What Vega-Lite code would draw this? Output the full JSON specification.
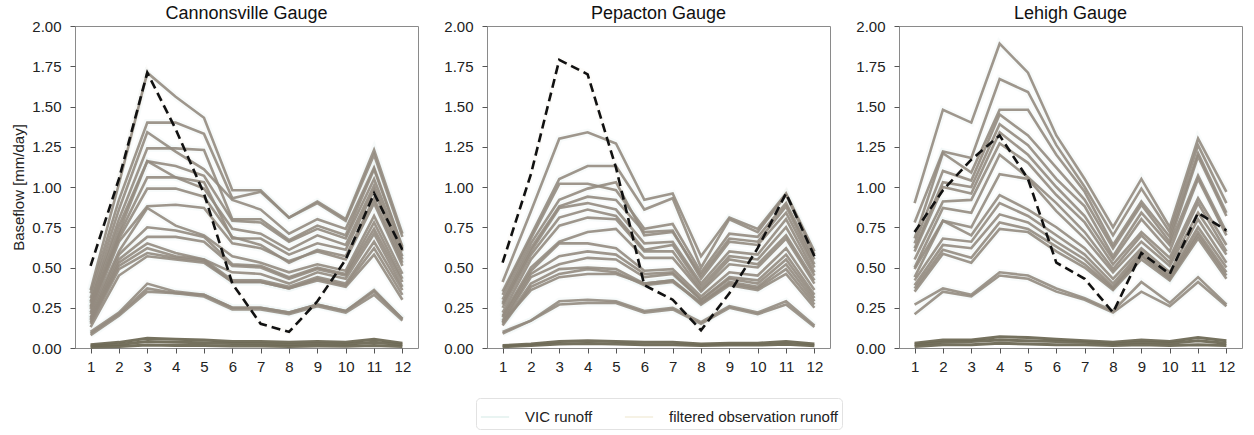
{
  "$schema": "https://vega.github.io/schema/vega-lite/v6.json",
  "background": "white",
  "padding": {"left": 11, "top": 4, "right": 5, "bottom": 0},
  "config": {
    "font": "Liberation Sans",
    "view": {"stroke": "#8a8a8a", "strokeWidth": 1},
    "axis": {
      "labelFont": "Liberation Sans", "labelFontSize": 15, "labelColor": "#222",
      "tickColor": "#555", "tickSize": 5, "domain": false, "grid": false,
      "titleFont": "Liberation Sans", "titleFontSize": 15, "titleFontWeight": "normal", "titleColor": "#222"
    },
    "title": {"font": "Liberation Sans", "fontSize": 18, "fontWeight": "normal", "color": "#111", "offset": -4},
    "legend": {
      "labelFont": "Liberation Sans", "labelFontSize": 15, "labelColor": "#222", "labelLimit": 400,
      "symbolType": "stroke", "symbolSize": 800, "symbolStrokeWidth": 1.5, "symbolOpacity": 1,
      "labelOffset": 15, "columnPadding": 28, "padding": 4,
      "strokeColor": "#e2e2e2", "cornerRadius": 4, "fillColor": "white"
    }
  },
  "datasets": {
    "cannonsville": [
      {"run":1,"month":1,"flow":0.36},{"run":1,"month":2,"flow":1.02},{"run":1,"month":3,"flow":1.71},{"run":1,"month":4,"flow":1.56},{"run":1,"month":5,"flow":1.43},{"run":1,"month":6,"flow":0.98},{"run":1,"month":7,"flow":0.98},{"run":1,"month":8,"flow":0.81},{"run":1,"month":9,"flow":0.91},{"run":1,"month":10,"flow":0.80},{"run":1,"month":11,"flow":1.23},{"run":1,"month":12,"flow":0.71},
      {"run":2,"month":1,"flow":0.34},{"run":2,"month":2,"flow":0.92},{"run":2,"month":3,"flow":1.40},{"run":2,"month":4,"flow":1.40},{"run":2,"month":5,"flow":1.33},{"run":2,"month":6,"flow":0.93},{"run":2,"month":7,"flow":0.97},{"run":2,"month":8,"flow":0.81},{"run":2,"month":9,"flow":0.90},{"run":2,"month":10,"flow":0.79},{"run":2,"month":11,"flow":1.20},{"run":2,"month":12,"flow":0.69},
      {"run":3,"month":1,"flow":0.31},{"run":3,"month":2,"flow":0.86},{"run":3,"month":3,"flow":1.34},{"run":3,"month":4,"flow":1.22},{"run":3,"month":5,"flow":1.11},{"run":3,"month":6,"flow":0.92},{"run":3,"month":7,"flow":0.86},{"run":3,"month":8,"flow":0.71},{"run":3,"month":9,"flow":0.80},{"run":3,"month":10,"flow":0.74},{"run":3,"month":11,"flow":1.12},{"run":3,"month":12,"flow":0.63},
      {"run":4,"month":1,"flow":0.29},{"run":4,"month":2,"flow":0.80},{"run":4,"month":3,"flow":1.24},{"run":4,"month":4,"flow":1.24},{"run":4,"month":5,"flow":1.23},{"run":4,"month":6,"flow":0.80},{"run":4,"month":7,"flow":0.80},{"run":4,"month":8,"flow":0.67},{"run":4,"month":9,"flow":0.76},{"run":4,"month":10,"flow":0.70},{"run":4,"month":11,"flow":1.11},{"run":4,"month":12,"flow":0.62},
      {"run":5,"month":1,"flow":0.28},{"run":5,"month":2,"flow":0.76},{"run":5,"month":3,"flow":1.16},{"run":5,"month":4,"flow":1.13},{"run":5,"month":5,"flow":1.07},{"run":5,"month":6,"flow":0.79},{"run":5,"month":7,"flow":0.78},{"run":5,"month":8,"flow":0.66},{"run":5,"month":9,"flow":0.74},{"run":5,"month":10,"flow":0.68},{"run":5,"month":11,"flow":1.05},{"run":5,"month":12,"flow":0.60},
      {"run":6,"month":1,"flow":0.26},{"run":6,"month":2,"flow":0.72},{"run":6,"month":3,"flow":1.16},{"run":6,"month":4,"flow":1.06},{"run":6,"month":5,"flow":0.99},{"run":6,"month":6,"flow":0.74},{"run":6,"month":7,"flow":0.71},{"run":6,"month":8,"flow":0.61},{"run":6,"month":9,"flow":0.70},{"run":6,"month":10,"flow":0.64},{"run":6,"month":11,"flow":1.01},{"run":6,"month":12,"flow":0.57},
      {"run":7,"month":1,"flow":0.25},{"run":7,"month":2,"flow":0.70},{"run":7,"month":3,"flow":1.06},{"run":7,"month":4,"flow":1.06},{"run":7,"month":5,"flow":1.03},{"run":7,"month":6,"flow":0.68},{"run":7,"month":7,"flow":0.68},{"run":7,"month":8,"flow":0.58},{"run":7,"month":9,"flow":0.65},{"run":7,"month":10,"flow":0.61},{"run":7,"month":11,"flow":0.98},{"run":7,"month":12,"flow":0.55},
      {"run":8,"month":1,"flow":0.24},{"run":8,"month":2,"flow":0.68},{"run":8,"month":3,"flow":0.99},{"run":8,"month":4,"flow":0.99},{"run":8,"month":5,"flow":0.94},{"run":8,"month":6,"flow":0.69},{"run":8,"month":7,"flow":0.64},{"run":8,"month":8,"flow":0.53},{"run":8,"month":9,"flow":0.61},{"run":8,"month":10,"flow":0.57},{"run":8,"month":11,"flow":0.93},{"run":8,"month":12,"flow":0.53},
      {"run":9,"month":1,"flow":0.22},{"run":9,"month":2,"flow":0.66},{"run":9,"month":3,"flow":0.88},{"run":9,"month":4,"flow":0.89},{"run":9,"month":5,"flow":0.87},{"run":9,"month":6,"flow":0.65},{"run":9,"month":7,"flow":0.62},{"run":9,"month":8,"flow":0.54},{"run":9,"month":9,"flow":0.60},{"run":9,"month":10,"flow":0.55},{"run":9,"month":11,"flow":0.90},{"run":9,"month":12,"flow":0.51},
      {"run":10,"month":1,"flow":0.21},{"run":10,"month":2,"flow":0.60},{"run":10,"month":3,"flow":0.87},{"run":10,"month":4,"flow":0.76},{"run":10,"month":5,"flow":0.70},{"run":10,"month":6,"flow":0.57},{"run":10,"month":7,"flow":0.53},{"run":10,"month":8,"flow":0.47},{"run":10,"month":9,"flow":0.52},{"run":10,"month":10,"flow":0.48},{"run":10,"month":11,"flow":0.82},{"run":10,"month":12,"flow":0.46},
      {"run":11,"month":1,"flow":0.19},{"run":11,"month":2,"flow":0.58},{"run":11,"month":3,"flow":0.75},{"run":11,"month":4,"flow":0.73},{"run":11,"month":5,"flow":0.69},{"run":11,"month":6,"flow":0.52},{"run":11,"month":7,"flow":0.51},{"run":11,"month":8,"flow":0.44},{"run":11,"month":9,"flow":0.50},{"run":11,"month":10,"flow":0.46},{"run":11,"month":11,"flow":0.78},{"run":11,"month":12,"flow":0.43},
      {"run":12,"month":1,"flow":0.18},{"run":12,"month":2,"flow":0.55},{"run":12,"month":3,"flow":0.69},{"run":12,"month":4,"flow":0.69},{"run":12,"month":5,"flow":0.66},{"run":12,"month":6,"flow":0.51},{"run":12,"month":7,"flow":0.50},{"run":12,"month":8,"flow":0.43},{"run":12,"month":9,"flow":0.49},{"run":12,"month":10,"flow":0.45},{"run":12,"month":11,"flow":0.74},{"run":12,"month":12,"flow":0.41},
      {"run":13,"month":1,"flow":0.17},{"run":13,"month":2,"flow":0.53},{"run":13,"month":3,"flow":0.65},{"run":13,"month":4,"flow":0.59},{"run":13,"month":5,"flow":0.55},{"run":13,"month":6,"flow":0.47},{"run":13,"month":7,"flow":0.46},{"run":13,"month":8,"flow":0.40},{"run":13,"month":9,"flow":0.47},{"run":13,"month":10,"flow":0.43},{"run":13,"month":11,"flow":0.71},{"run":13,"month":12,"flow":0.38},
      {"run":14,"month":1,"flow":0.16},{"run":14,"month":2,"flow":0.51},{"run":14,"month":3,"flow":0.62},{"run":14,"month":4,"flow":0.57},{"run":14,"month":5,"flow":0.55},{"run":14,"month":6,"flow":0.42},{"run":14,"month":7,"flow":0.42},{"run":14,"month":8,"flow":0.38},{"run":14,"month":9,"flow":0.44},{"run":14,"month":10,"flow":0.40},{"run":14,"month":11,"flow":0.66},{"run":14,"month":12,"flow":0.36},
      {"run":15,"month":1,"flow":0.15},{"run":15,"month":2,"flow":0.49},{"run":15,"month":3,"flow":0.59},{"run":15,"month":4,"flow":0.56},{"run":15,"month":5,"flow":0.54},{"run":15,"month":6,"flow":0.41},{"run":15,"month":7,"flow":0.41},{"run":15,"month":8,"flow":0.37},{"run":15,"month":9,"flow":0.43},{"run":15,"month":10,"flow":0.39},{"run":15,"month":11,"flow":0.62},{"run":15,"month":12,"flow":0.33},
      {"run":16,"month":1,"flow":0.13},{"run":16,"month":2,"flow":0.45},{"run":16,"month":3,"flow":0.57},{"run":16,"month":4,"flow":0.55},{"run":16,"month":5,"flow":0.53},{"run":16,"month":6,"flow":0.41},{"run":16,"month":7,"flow":0.41},{"run":16,"month":8,"flow":0.37},{"run":16,"month":9,"flow":0.42},{"run":16,"month":10,"flow":0.38},{"run":16,"month":11,"flow":0.58},{"run":16,"month":12,"flow":0.30},
      {"run":17,"month":1,"flow":0.10},{"run":17,"month":2,"flow":0.22},{"run":17,"month":3,"flow":0.40},{"run":17,"month":4,"flow":0.35},{"run":17,"month":5,"flow":0.33},{"run":17,"month":6,"flow":0.25},{"run":17,"month":7,"flow":0.25},{"run":17,"month":8,"flow":0.22},{"run":17,"month":9,"flow":0.27},{"run":17,"month":10,"flow":0.23},{"run":17,"month":11,"flow":0.36},{"run":17,"month":12,"flow":0.18},
      {"run":18,"month":1,"flow":0.09},{"run":18,"month":2,"flow":0.21},{"run":18,"month":3,"flow":0.37},{"run":18,"month":4,"flow":0.34},{"run":18,"month":5,"flow":0.33},{"run":18,"month":6,"flow":0.25},{"run":18,"month":7,"flow":0.25},{"run":18,"month":8,"flow":0.22},{"run":18,"month":9,"flow":0.27},{"run":18,"month":10,"flow":0.23},{"run":18,"month":11,"flow":0.35},{"run":18,"month":12,"flow":0.18},
      {"run":19,"month":1,"flow":0.08},{"run":19,"month":2,"flow":0.20},{"run":19,"month":3,"flow":0.35},{"run":19,"month":4,"flow":0.34},{"run":19,"month":5,"flow":0.32},{"run":19,"month":6,"flow":0.24},{"run":19,"month":7,"flow":0.24},{"run":19,"month":8,"flow":0.21},{"run":19,"month":9,"flow":0.26},{"run":19,"month":10,"flow":0.22},{"run":19,"month":11,"flow":0.33},{"run":19,"month":12,"flow":0.17}
    ],
    "cannonsville_low": [
      {"run":1,"month":1,"flow":0.020},{"run":1,"month":2,"flow":0.035},{"run":1,"month":3,"flow":0.060},{"run":1,"month":4,"flow":0.055},{"run":1,"month":5,"flow":0.050},{"run":1,"month":6,"flow":0.040},{"run":1,"month":7,"flow":0.040},{"run":1,"month":8,"flow":0.035},{"run":1,"month":9,"flow":0.040},{"run":1,"month":10,"flow":0.035},{"run":1,"month":11,"flow":0.055},{"run":1,"month":12,"flow":0.030},
      {"run":2,"month":1,"flow":0.012},{"run":2,"month":2,"flow":0.022},{"run":2,"month":3,"flow":0.040},{"run":2,"month":4,"flow":0.035},{"run":2,"month":5,"flow":0.032},{"run":2,"month":6,"flow":0.028},{"run":2,"month":7,"flow":0.026},{"run":2,"month":8,"flow":0.022},{"run":2,"month":9,"flow":0.026},{"run":2,"month":10,"flow":0.024},{"run":2,"month":11,"flow":0.036},{"run":2,"month":12,"flow":0.020},
      {"run":3,"month":1,"flow":0.005},{"run":3,"month":2,"flow":0.010},{"run":3,"month":3,"flow":0.018},{"run":3,"month":4,"flow":0.016},{"run":3,"month":5,"flow":0.015},{"run":3,"month":6,"flow":0.012},{"run":3,"month":7,"flow":0.012},{"run":3,"month":8,"flow":0.010},{"run":3,"month":9,"flow":0.012},{"run":3,"month":10,"flow":0.011},{"run":3,"month":11,"flow":0.016},{"run":3,"month":12,"flow":0.009}
    ],
    "cannonsville_obs": [
      {"month":1,"flow":0.51},{"month":2,"flow":1.05},{"month":3,"flow":1.71},{"month":4,"flow":1.36},{"month":5,"flow":0.96},{"month":6,"flow":0.40},{"month":7,"flow":0.15},{"month":8,"flow":0.10},{"month":9,"flow":0.29},{"month":10,"flow":0.55},{"month":11,"flow":0.96},{"month":12,"flow":0.61}
    ],
    "pepacton": [
      {"run":1,"month":1,"flow":0.41},{"run":1,"month":2,"flow":0.85},{"run":1,"month":3,"flow":1.30},{"run":1,"month":4,"flow":1.34},{"run":1,"month":5,"flow":1.27},{"run":1,"month":6,"flow":0.92},{"run":1,"month":7,"flow":0.96},{"run":1,"month":8,"flow":0.57},{"run":1,"month":9,"flow":0.81},{"run":1,"month":10,"flow":0.74},{"run":1,"month":11,"flow":0.96},{"run":1,"month":12,"flow":0.60},
      {"run":2,"month":1,"flow":0.35},{"run":2,"month":2,"flow":0.70},{"run":2,"month":3,"flow":1.05},{"run":2,"month":4,"flow":1.13},{"run":2,"month":5,"flow":1.13},{"run":2,"month":6,"flow":0.86},{"run":2,"month":7,"flow":0.93},{"run":2,"month":8,"flow":0.50},{"run":2,"month":9,"flow":0.80},{"run":2,"month":10,"flow":0.72},{"run":2,"month":11,"flow":0.95},{"run":2,"month":12,"flow":0.58},
      {"run":3,"month":1,"flow":0.33},{"run":3,"month":2,"flow":0.68},{"run":3,"month":3,"flow":1.02},{"run":3,"month":4,"flow":1.02},{"run":3,"month":5,"flow":0.98},{"run":3,"month":6,"flow":0.74},{"run":3,"month":7,"flow":0.77},{"run":3,"month":8,"flow":0.47},{"run":3,"month":9,"flow":0.71},{"run":3,"month":10,"flow":0.69},{"run":3,"month":11,"flow":0.90},{"run":3,"month":12,"flow":0.55},
      {"run":4,"month":1,"flow":0.30},{"run":4,"month":2,"flow":0.65},{"run":4,"month":3,"flow":0.92},{"run":4,"month":4,"flow":0.99},{"run":4,"month":5,"flow":1.03},{"run":4,"month":6,"flow":0.70},{"run":4,"month":7,"flow":0.72},{"run":4,"month":8,"flow":0.45},{"run":4,"month":9,"flow":0.68},{"run":4,"month":10,"flow":0.66},{"run":4,"month":11,"flow":0.88},{"run":4,"month":12,"flow":0.52},
      {"run":5,"month":1,"flow":0.28},{"run":5,"month":2,"flow":0.62},{"run":5,"month":3,"flow":0.88},{"run":5,"month":4,"flow":0.94},{"run":5,"month":5,"flow":0.92},{"run":5,"month":6,"flow":0.72},{"run":5,"month":7,"flow":0.73},{"run":5,"month":8,"flow":0.43},{"run":5,"month":9,"flow":0.66},{"run":5,"month":10,"flow":0.64},{"run":5,"month":11,"flow":0.84},{"run":5,"month":12,"flow":0.50},
      {"run":6,"month":1,"flow":0.27},{"run":6,"month":2,"flow":0.60},{"run":6,"month":3,"flow":0.87},{"run":6,"month":4,"flow":0.90},{"run":6,"month":5,"flow":0.86},{"run":6,"month":6,"flow":0.65},{"run":6,"month":7,"flow":0.66},{"run":6,"month":8,"flow":0.40},{"run":6,"month":9,"flow":0.60},{"run":6,"month":10,"flow":0.58},{"run":6,"month":11,"flow":0.80},{"run":6,"month":12,"flow":0.47},
      {"run":7,"month":1,"flow":0.25},{"run":7,"month":2,"flow":0.58},{"run":7,"month":3,"flow":0.81},{"run":7,"month":4,"flow":0.86},{"run":7,"month":5,"flow":0.82},{"run":7,"month":6,"flow":0.61},{"run":7,"month":7,"flow":0.64},{"run":7,"month":8,"flow":0.38},{"run":7,"month":9,"flow":0.57},{"run":7,"month":10,"flow":0.55},{"run":7,"month":11,"flow":0.75},{"run":7,"month":12,"flow":0.45},
      {"run":8,"month":1,"flow":0.22},{"run":8,"month":2,"flow":0.55},{"run":8,"month":3,"flow":0.76},{"run":8,"month":4,"flow":0.81},{"run":8,"month":5,"flow":0.80},{"run":8,"month":6,"flow":0.60},{"run":8,"month":7,"flow":0.60},{"run":8,"month":8,"flow":0.36},{"run":8,"month":9,"flow":0.55},{"run":8,"month":10,"flow":0.52},{"run":8,"month":11,"flow":0.70},{"run":8,"month":12,"flow":0.42},
      {"run":9,"month":1,"flow":0.20},{"run":9,"month":2,"flow":0.50},{"run":9,"month":3,"flow":0.66},{"run":9,"month":4,"flow":0.72},{"run":9,"month":5,"flow":0.74},{"run":9,"month":6,"flow":0.56},{"run":9,"month":7,"flow":0.56},{"run":9,"month":8,"flow":0.35},{"run":9,"month":9,"flow":0.52},{"run":9,"month":10,"flow":0.50},{"run":9,"month":11,"flow":0.68},{"run":9,"month":12,"flow":0.40},
      {"run":10,"month":1,"flow":0.19},{"run":10,"month":2,"flow":0.48},{"run":10,"month":3,"flow":0.65},{"run":10,"month":4,"flow":0.65},{"run":10,"month":5,"flow":0.62},{"run":10,"month":6,"flow":0.48},{"run":10,"month":7,"flow":0.49},{"run":10,"month":8,"flow":0.32},{"run":10,"month":9,"flow":0.47},{"run":10,"month":10,"flow":0.45},{"run":10,"month":11,"flow":0.62},{"run":10,"month":12,"flow":0.36},
      {"run":11,"month":1,"flow":0.17},{"run":11,"month":2,"flow":0.46},{"run":11,"month":3,"flow":0.57},{"run":11,"month":4,"flow":0.60},{"run":11,"month":5,"flow":0.58},{"run":11,"month":6,"flow":0.46},{"run":11,"month":7,"flow":0.47},{"run":11,"month":8,"flow":0.30},{"run":11,"month":9,"flow":0.44},{"run":11,"month":10,"flow":0.42},{"run":11,"month":11,"flow":0.58},{"run":11,"month":12,"flow":0.33},
      {"run":12,"month":1,"flow":0.16},{"run":12,"month":2,"flow":0.44},{"run":12,"month":3,"flow":0.52},{"run":12,"month":4,"flow":0.56},{"run":12,"month":5,"flow":0.55},{"run":12,"month":6,"flow":0.44},{"run":12,"month":7,"flow":0.46},{"run":12,"month":8,"flow":0.30},{"run":12,"month":9,"flow":0.43},{"run":12,"month":10,"flow":0.40},{"run":12,"month":11,"flow":0.55},{"run":12,"month":12,"flow":0.31},
      {"run":13,"month":1,"flow":0.15},{"run":13,"month":2,"flow":0.40},{"run":13,"month":3,"flow":0.49},{"run":13,"month":4,"flow":0.50},{"run":13,"month":5,"flow":0.49},{"run":13,"month":6,"flow":0.40},{"run":13,"month":7,"flow":0.42},{"run":13,"month":8,"flow":0.28},{"run":13,"month":9,"flow":0.41},{"run":13,"month":10,"flow":0.38},{"run":13,"month":11,"flow":0.52},{"run":13,"month":12,"flow":0.29},
      {"run":14,"month":1,"flow":0.14},{"run":14,"month":2,"flow":0.38},{"run":14,"month":3,"flow":0.46},{"run":14,"month":4,"flow":0.49},{"run":14,"month":5,"flow":0.47},{"run":14,"month":6,"flow":0.39},{"run":14,"month":7,"flow":0.41},{"run":14,"month":8,"flow":0.28},{"run":14,"month":9,"flow":0.40},{"run":14,"month":10,"flow":0.37},{"run":14,"month":11,"flow":0.49},{"run":14,"month":12,"flow":0.27},
      {"run":15,"month":1,"flow":0.16},{"run":15,"month":2,"flow":0.36},{"run":15,"month":3,"flow":0.44},{"run":15,"month":4,"flow":0.46},{"run":15,"month":5,"flow":0.46},{"run":15,"month":6,"flow":0.40},{"run":15,"month":7,"flow":0.42},{"run":15,"month":8,"flow":0.27},{"run":15,"month":9,"flow":0.39},{"run":15,"month":10,"flow":0.36},{"run":15,"month":11,"flow":0.46},{"run":15,"month":12,"flow":0.25},
      {"run":16,"month":1,"flow":0.10},{"run":16,"month":2,"flow":0.17},{"run":16,"month":3,"flow":0.29},{"run":16,"month":4,"flow":0.30},{"run":16,"month":5,"flow":0.29},{"run":16,"month":6,"flow":0.23},{"run":16,"month":7,"flow":0.25},{"run":16,"month":8,"flow":0.16},{"run":16,"month":9,"flow":0.26},{"run":16,"month":10,"flow":0.22},{"run":16,"month":11,"flow":0.29},{"run":16,"month":12,"flow":0.14},
      {"run":17,"month":1,"flow":0.09},{"run":17,"month":2,"flow":0.17},{"run":17,"month":3,"flow":0.27},{"run":17,"month":4,"flow":0.28},{"run":17,"month":5,"flow":0.28},{"run":17,"month":6,"flow":0.22},{"run":17,"month":7,"flow":0.24},{"run":17,"month":8,"flow":0.15},{"run":17,"month":9,"flow":0.25},{"run":17,"month":10,"flow":0.21},{"run":17,"month":11,"flow":0.27},{"run":17,"month":12,"flow":0.13}
    ],
    "pepacton_low": [
      {"run":1,"month":1,"flow":0.015},{"run":1,"month":2,"flow":0.025},{"run":1,"month":3,"flow":0.040},{"run":1,"month":4,"flow":0.045},{"run":1,"month":5,"flow":0.040},{"run":1,"month":6,"flow":0.035},{"run":1,"month":7,"flow":0.035},{"run":1,"month":8,"flow":0.025},{"run":1,"month":9,"flow":0.030},{"run":1,"month":10,"flow":0.030},{"run":1,"month":11,"flow":0.040},{"run":1,"month":12,"flow":0.025},
      {"run":2,"month":1,"flow":0.008},{"run":2,"month":2,"flow":0.015},{"run":2,"month":3,"flow":0.025},{"run":2,"month":4,"flow":0.028},{"run":2,"month":5,"flow":0.025},{"run":2,"month":6,"flow":0.020},{"run":2,"month":7,"flow":0.020},{"run":2,"month":8,"flow":0.015},{"run":2,"month":9,"flow":0.018},{"run":2,"month":10,"flow":0.018},{"run":2,"month":11,"flow":0.024},{"run":2,"month":12,"flow":0.014}
    ],
    "pepacton_obs": [
      {"month":1,"flow":0.53},{"month":2,"flow":1.08},{"month":3,"flow":1.79},{"month":4,"flow":1.70},{"month":5,"flow":1.12},{"month":6,"flow":0.39},{"month":7,"flow":0.30},{"month":8,"flow":0.11},{"month":9,"flow":0.34},{"month":10,"flow":0.62},{"month":11,"flow":0.96},{"month":12,"flow":0.57}
    ],
    "lehigh": [
      {"run":1,"month":1,"flow":0.90},{"run":1,"month":2,"flow":1.48},{"run":1,"month":3,"flow":1.40},{"run":1,"month":4,"flow":1.89},{"run":1,"month":5,"flow":1.71},{"run":1,"month":6,"flow":1.32},{"run":1,"month":7,"flow":1.05},{"run":1,"month":8,"flow":0.75},{"run":1,"month":9,"flow":1.05},{"run":1,"month":10,"flow":0.75},{"run":1,"month":11,"flow":1.30},{"run":1,"month":12,"flow":0.97},
      {"run":2,"month":1,"flow":0.78},{"run":2,"month":2,"flow":1.22},{"run":2,"month":3,"flow":1.18},{"run":2,"month":4,"flow":1.67},{"run":2,"month":5,"flow":1.59},{"run":2,"month":6,"flow":1.26},{"run":2,"month":7,"flow":1.00},{"run":2,"month":8,"flow":0.70},{"run":2,"month":9,"flow":0.99},{"run":2,"month":10,"flow":0.72},{"run":2,"month":11,"flow":1.26},{"run":2,"month":12,"flow":0.90},
      {"run":3,"month":1,"flow":0.68},{"run":3,"month":2,"flow":1.21},{"run":3,"month":3,"flow":1.09},{"run":3,"month":4,"flow":1.48},{"run":3,"month":5,"flow":1.48},{"run":3,"month":6,"flow":1.20},{"run":3,"month":7,"flow":0.97},{"run":3,"month":8,"flow":0.64},{"run":3,"month":9,"flow":0.91},{"run":3,"month":10,"flow":0.69},{"run":3,"month":11,"flow":1.21},{"run":3,"month":12,"flow":0.84},
      {"run":4,"month":1,"flow":0.65},{"run":4,"month":2,"flow":1.10},{"run":4,"month":3,"flow":1.04},{"run":4,"month":4,"flow":1.45},{"run":4,"month":5,"flow":1.32},{"run":4,"month":6,"flow":1.12},{"run":4,"month":7,"flow":0.92},{"run":4,"month":8,"flow":0.62},{"run":4,"month":9,"flow":0.89},{"run":4,"month":10,"flow":0.66},{"run":4,"month":11,"flow":1.19},{"run":4,"month":12,"flow":0.82},
      {"run":5,"month":1,"flow":0.62},{"run":5,"month":2,"flow":1.03},{"run":5,"month":3,"flow":1.00},{"run":5,"month":4,"flow":1.39},{"run":5,"month":5,"flow":1.26},{"run":5,"month":6,"flow":1.05},{"run":5,"month":7,"flow":0.88},{"run":5,"month":8,"flow":0.57},{"run":5,"month":9,"flow":0.84},{"run":5,"month":10,"flow":0.64},{"run":5,"month":11,"flow":1.07},{"run":5,"month":12,"flow":0.72},
      {"run":6,"month":1,"flow":0.60},{"run":6,"month":2,"flow":1.00},{"run":6,"month":3,"flow":0.96},{"run":6,"month":4,"flow":1.34},{"run":6,"month":5,"flow":1.20},{"run":6,"month":6,"flow":1.00},{"run":6,"month":7,"flow":0.82},{"run":6,"month":8,"flow":0.55},{"run":6,"month":9,"flow":0.80},{"run":6,"month":10,"flow":0.60},{"run":6,"month":11,"flow":1.05},{"run":6,"month":12,"flow":0.70},
      {"run":7,"month":1,"flow":0.55},{"run":7,"month":2,"flow":0.91},{"run":7,"month":3,"flow":0.92},{"run":7,"month":4,"flow":1.27},{"run":7,"month":5,"flow":1.15},{"run":7,"month":6,"flow":0.95},{"run":7,"month":7,"flow":0.78},{"run":7,"month":8,"flow":0.52},{"run":7,"month":9,"flow":0.72},{"run":7,"month":10,"flow":0.56},{"run":7,"month":11,"flow":0.93},{"run":7,"month":12,"flow":0.64},
      {"run":8,"month":1,"flow":0.50},{"run":8,"month":2,"flow":0.87},{"run":8,"month":3,"flow":0.84},{"run":8,"month":4,"flow":1.20},{"run":8,"month":5,"flow":1.06},{"run":8,"month":6,"flow":0.90},{"run":8,"month":7,"flow":0.72},{"run":8,"month":8,"flow":0.49},{"run":8,"month":9,"flow":0.70},{"run":8,"month":10,"flow":0.53},{"run":8,"month":11,"flow":0.90},{"run":8,"month":12,"flow":0.60},
      {"run":9,"month":1,"flow":0.49},{"run":9,"month":2,"flow":0.79},{"run":9,"month":3,"flow":0.75},{"run":9,"month":4,"flow":1.08},{"run":9,"month":5,"flow":1.05},{"run":9,"month":6,"flow":0.85},{"run":9,"month":7,"flow":0.68},{"run":9,"month":8,"flow":0.47},{"run":9,"month":9,"flow":0.66},{"run":9,"month":10,"flow":0.51},{"run":9,"month":11,"flow":0.84},{"run":9,"month":12,"flow":0.58},
      {"run":10,"month":1,"flow":0.44},{"run":10,"month":2,"flow":0.79},{"run":10,"month":3,"flow":0.70},{"run":10,"month":4,"flow":0.95},{"run":10,"month":5,"flow":0.86},{"run":10,"month":6,"flow":0.75},{"run":10,"month":7,"flow":0.62},{"run":10,"month":8,"flow":0.43},{"run":10,"month":9,"flow":0.62},{"run":10,"month":10,"flow":0.47},{"run":10,"month":11,"flow":0.80},{"run":10,"month":12,"flow":0.53},
      {"run":11,"month":1,"flow":0.42},{"run":11,"month":2,"flow":0.68},{"run":11,"month":3,"flow":0.66},{"run":11,"month":4,"flow":0.90},{"run":11,"month":5,"flow":0.82},{"run":11,"month":6,"flow":0.70},{"run":11,"month":7,"flow":0.58},{"run":11,"month":8,"flow":0.40},{"run":11,"month":9,"flow":0.60},{"run":11,"month":10,"flow":0.45},{"run":11,"month":11,"flow":0.75},{"run":11,"month":12,"flow":0.50},
      {"run":12,"month":1,"flow":0.39},{"run":12,"month":2,"flow":0.64},{"run":12,"month":3,"flow":0.62},{"run":12,"month":4,"flow":0.83},{"run":12,"month":5,"flow":0.78},{"run":12,"month":6,"flow":0.66},{"run":12,"month":7,"flow":0.55},{"run":12,"month":8,"flow":0.38},{"run":12,"month":9,"flow":0.58},{"run":12,"month":10,"flow":0.44},{"run":12,"month":11,"flow":0.72},{"run":12,"month":12,"flow":0.47},
      {"run":13,"month":1,"flow":0.37},{"run":13,"month":2,"flow":0.61},{"run":13,"month":3,"flow":0.56},{"run":13,"month":4,"flow":0.78},{"run":13,"month":5,"flow":0.74},{"run":13,"month":6,"flow":0.63},{"run":13,"month":7,"flow":0.52},{"run":13,"month":8,"flow":0.37},{"run":13,"month":9,"flow":0.57},{"run":13,"month":10,"flow":0.43},{"run":13,"month":11,"flow":0.70},{"run":13,"month":12,"flow":0.45},
      {"run":14,"month":1,"flow":0.35},{"run":14,"month":2,"flow":0.585},{"run":14,"month":3,"flow":0.53},{"run":14,"month":4,"flow":0.74},{"run":14,"month":5,"flow":0.72},{"run":14,"month":6,"flow":0.60},{"run":14,"month":7,"flow":0.50},{"run":14,"month":8,"flow":0.36},{"run":14,"month":9,"flow":0.55},{"run":14,"month":10,"flow":0.42},{"run":14,"month":11,"flow":0.68},{"run":14,"month":12,"flow":0.43},
      {"run":15,"month":1,"flow":0.27},{"run":15,"month":2,"flow":0.37},{"run":15,"month":3,"flow":0.33},{"run":15,"month":4,"flow":0.47},{"run":15,"month":5,"flow":0.45},{"run":15,"month":6,"flow":0.37},{"run":15,"month":7,"flow":0.31},{"run":15,"month":8,"flow":0.23},{"run":15,"month":9,"flow":0.41},{"run":15,"month":10,"flow":0.28},{"run":15,"month":11,"flow":0.44},{"run":15,"month":12,"flow":0.27},
      {"run":16,"month":1,"flow":0.21},{"run":16,"month":2,"flow":0.35},{"run":16,"month":3,"flow":0.32},{"run":16,"month":4,"flow":0.45},{"run":16,"month":5,"flow":0.43},{"run":16,"month":6,"flow":0.35},{"run":16,"month":7,"flow":0.30},{"run":16,"month":8,"flow":0.22},{"run":16,"month":9,"flow":0.35},{"run":16,"month":10,"flow":0.26},{"run":16,"month":11,"flow":0.41},{"run":16,"month":12,"flow":0.26}
    ],
    "lehigh_low": [
      {"run":1,"month":1,"flow":0.030},{"run":1,"month":2,"flow":0.050},{"run":1,"month":3,"flow":0.050},{"run":1,"month":4,"flow":0.070},{"run":1,"month":5,"flow":0.065},{"run":1,"month":6,"flow":0.055},{"run":1,"month":7,"flow":0.045},{"run":1,"month":8,"flow":0.035},{"run":1,"month":9,"flow":0.050},{"run":1,"month":10,"flow":0.040},{"run":1,"month":11,"flow":0.065},{"run":1,"month":12,"flow":0.045},
      {"run":2,"month":1,"flow":0.020},{"run":2,"month":2,"flow":0.035},{"run":2,"month":3,"flow":0.040},{"run":2,"month":4,"flow":0.050},{"run":2,"month":5,"flow":0.045},{"run":2,"month":6,"flow":0.040},{"run":2,"month":7,"flow":0.035},{"run":2,"month":8,"flow":0.025},{"run":2,"month":9,"flow":0.035},{"run":2,"month":10,"flow":0.030},{"run":2,"month":11,"flow":0.045},{"run":2,"month":12,"flow":0.030},
      {"run":3,"month":1,"flow":0.010},{"run":3,"month":2,"flow":0.020},{"run":3,"month":3,"flow":0.020},{"run":3,"month":4,"flow":0.030},{"run":3,"month":5,"flow":0.025},{"run":3,"month":6,"flow":0.020},{"run":3,"month":7,"flow":0.020},{"run":3,"month":8,"flow":0.015},{"run":3,"month":9,"flow":0.020},{"run":3,"month":10,"flow":0.015},{"run":3,"month":11,"flow":0.020},{"run":3,"month":12,"flow":0.015}
    ],
    "lehigh_obs": [
      {"month":1,"flow":0.72},{"month":2,"flow":0.98},{"month":3,"flow":1.17},{"month":4,"flow":1.32},{"month":5,"flow":1.05},{"month":6,"flow":0.53},{"month":7,"flow":0.43},{"month":8,"flow":0.22},{"month":9,"flow":0.59},{"month":10,"flow":0.46},{"month":11,"flow":0.84},{"month":12,"flow":0.73}
    ]
  },
  "bounds": "flush",
  "spacing": 69,
  "resolve": {"scale": {"color": "shared"}},
  "hconcat": [
    {
      "title": "Cannonsville Gauge",
      "width": 343, "height": 322,
      "encoding": {
        "x": {"field": "month", "type": "quantitative", "scale": {"domain": [0.45, 12.55], "nice": false, "zero": false},
              "axis": {"values": [1,2,3,4,5,6,7,8,9,10,11,12], "title": null, "labelPadding": 6, "labelFlush": false}},
        "y": {"field": "flow", "type": "quantitative", "scale": {"domain": [0, 2], "nice": false},
              "axis": {"values": [0,0.25,0.5,0.75,1,1.25,1.5,1.75,2], "format": ".2f", "title": "Baseflow [mm/day]", "labelPadding": 9, "titlePadding": 5, "labelFlush": false}}
      },
      "layer": [
        {"data": {"name": "cannonsville"}, "mark": {"type": "line", "strokeWidth": 7, "opacity": 0.25},
         "encoding": {"detail": {"field": "run"},
                      "color": {"datum": "VIC runoff", "type": "nominal",
                                "scale": {"domain": ["VIC runoff", "filtered observation runoff"], "range": ["#e2f0ee", "#f3eedc"]},
                                "legend": {"title": null, "orient": "none", "direction": "horizontal", "legendX": 401, "legendY": 372}}}},
        {"data": {"name": "cannonsville_obs"}, "mark": {"type": "line", "strokeWidth": 6, "opacity": 0.15},
         "encoding": {"color": {"datum": "filtered observation runoff", "type": "nominal"}}},
        {"data": {"name": "cannonsville"}, "mark": {"type": "line", "color": "#948b80", "strokeWidth": 2.6, "opacity": 0.9},
         "encoding": {"detail": {"field": "run"}}},
        {"data": {"name": "cannonsville_low"}, "mark": {"type": "line", "color": "#6e6955", "strokeWidth": 3, "opacity": 0.95},
         "encoding": {"detail": {"field": "run"}}},
        {"data": {"name": "cannonsville_obs"}, "mark": {"type": "line", "color": "#111111", "strokeWidth": 2.6, "strokeDash": [9, 5]},
         "encoding": {}}
      ]
    },
    {
      "title": "Pepacton Gauge",
      "width": 343, "height": 322,
      "encoding": {
        "x": {"field": "month", "type": "quantitative", "scale": {"domain": [0.45, 12.55], "nice": false, "zero": false},
              "axis": {"values": [1,2,3,4,5,6,7,8,9,10,11,12], "title": null, "labelPadding": 6, "labelFlush": false}},
        "y": {"field": "flow", "type": "quantitative", "scale": {"domain": [0, 2], "nice": false},
              "axis": {"values": [0,0.25,0.5,0.75,1,1.25,1.5,1.75,2], "format": ".2f", "title": null, "labelPadding": 9, "labelFlush": false}}
      },
      "layer": [
        {"data": {"name": "pepacton"}, "mark": {"type": "line", "strokeWidth": 7, "opacity": 0.25},
         "encoding": {"detail": {"field": "run"}, "color": {"datum": "VIC runoff", "type": "nominal"}}},
        {"data": {"name": "pepacton_obs"}, "mark": {"type": "line", "strokeWidth": 6, "opacity": 0.15},
         "encoding": {"color": {"datum": "filtered observation runoff", "type": "nominal"}}},
        {"data": {"name": "pepacton"}, "mark": {"type": "line", "color": "#948b80", "strokeWidth": 2.6, "opacity": 0.9},
         "encoding": {"detail": {"field": "run"}}},
        {"data": {"name": "pepacton_low"}, "mark": {"type": "line", "color": "#6e6955", "strokeWidth": 3, "opacity": 0.95},
         "encoding": {"detail": {"field": "run"}}},
        {"data": {"name": "pepacton_obs"}, "mark": {"type": "line", "color": "#111111", "strokeWidth": 2.6, "strokeDash": [9, 5]},
         "encoding": {}}
      ]
    },
    {
      "title": "Lehigh Gauge",
      "width": 343, "height": 322,
      "encoding": {
        "x": {"field": "month", "type": "quantitative", "scale": {"domain": [0.45, 12.55], "nice": false, "zero": false},
              "axis": {"values": [1,2,3,4,5,6,7,8,9,10,11,12], "title": null, "labelPadding": 6, "labelFlush": false}},
        "y": {"field": "flow", "type": "quantitative", "scale": {"domain": [0, 2], "nice": false},
              "axis": {"values": [0,0.25,0.5,0.75,1,1.25,1.5,1.75,2], "format": ".2f", "title": null, "labelPadding": 9, "labelFlush": false}}
      },
      "layer": [
        {"data": {"name": "lehigh"}, "mark": {"type": "line", "strokeWidth": 7, "opacity": 0.25},
         "encoding": {"detail": {"field": "run"}, "color": {"datum": "VIC runoff", "type": "nominal"}}},
        {"data": {"name": "lehigh_obs"}, "mark": {"type": "line", "strokeWidth": 6, "opacity": 0.15},
         "encoding": {"color": {"datum": "filtered observation runoff", "type": "nominal"}}},
        {"data": {"name": "lehigh"}, "mark": {"type": "line", "color": "#948b80", "strokeWidth": 2.6, "opacity": 0.9},
         "encoding": {"detail": {"field": "run"}}},
        {"data": {"name": "lehigh_low"}, "mark": {"type": "line", "color": "#6e6955", "strokeWidth": 3, "opacity": 0.95},
         "encoding": {"detail": {"field": "run"}}},
        {"data": {"name": "lehigh_obs"}, "mark": {"type": "line", "color": "#111111", "strokeWidth": 2.6, "strokeDash": [9, 5]},
         "encoding": {}}
      ]
    }
  ]
}
